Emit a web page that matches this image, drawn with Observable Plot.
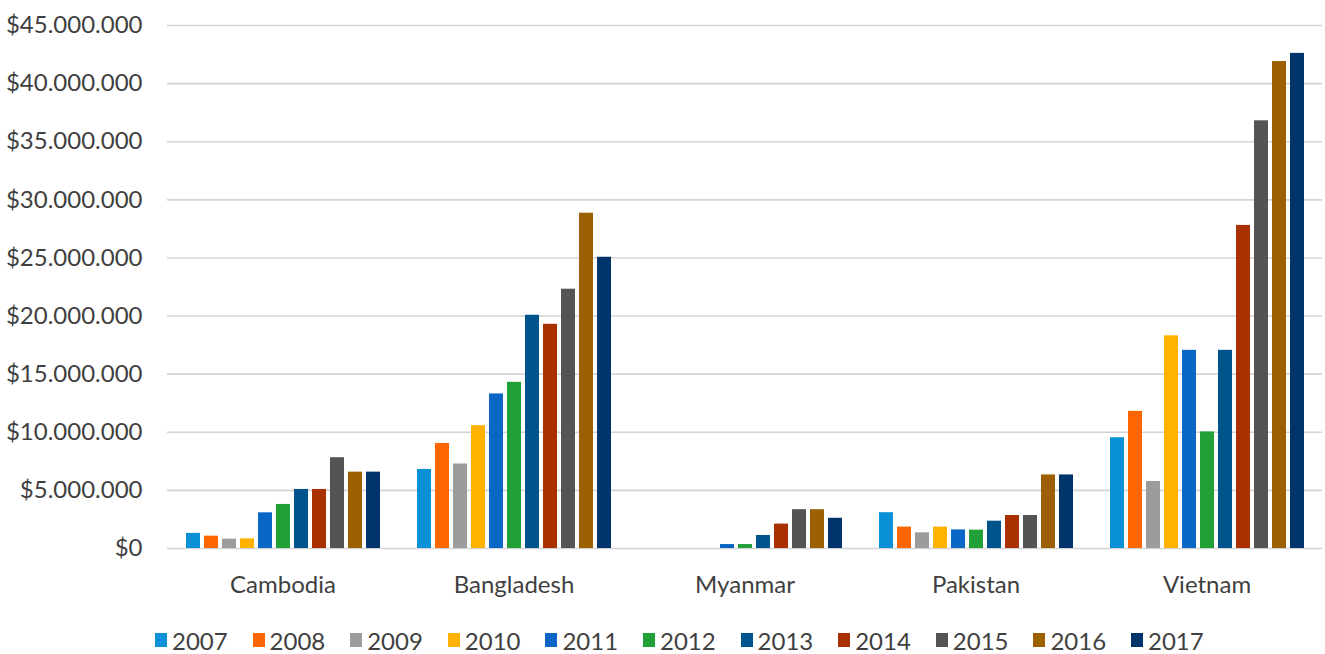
<!DOCTYPE html>
<html>
<head>
<meta charset="utf-8">
<script src="https://cdn.jsdelivr.net/npm/d3@7"></script>
<script src="https://cdn.jsdelivr.net/npm/@observablehq/plot@0.6"></script>
<style>
  body { margin: 0; background: #fff; font-family: Lato, "Open Sans", sans-serif; }
  #chart svg { display: block; }
  #legend { position: relative; height: 49px; }
  .item { position: absolute; top: 22px; display: flex; align-items: center; height: 26px; font-size: 24px; color: #3f3f3f; }
  .sw { width: 12px; height: 14px; margin-right: 5px; }
</style>
</head>
<body>
<div id="chart"></div>
<div id="legend"></div>
<script>
// Countries (facets) and years (bars within each country)
const countries = ["Cambodia", "Bangladesh", "Myanmar", "Pakistan", "Vietnam"];
const years = ["2007", "2008", "2009", "2010", "2011", "2012", "2013", "2014", "2015", "2016", "2017"];
const colors = ["#0a90d6", "#ff6600", "#9c9c9c", "#ffb300", "#0b67c6", "#21a038",
                "#00548c", "#a93000", "#545454", "#9b6100", "#00346a"];

// Values in USD, one entry per year 2007–2017
const cambodia   = [1300000, 1060000, 800000, 830000, 3070000, 3790000, 5080000, 5080000, 7810000, 6570000, 6570000];
const bangladesh = [6800000, 9040000, 7270000, 10570000, 13300000, 14300000, 20070000, 19290000, 22310000, 28850000, 25060000];
const myanmar    = [0, 0, 0, 0, 340000, 340000, 1120000, 2100000, 3340000, 3340000, 2600000];
const pakistan   = [3080000, 1840000, 1350000, 1840000, 1600000, 1580000, 2350000, 2840000, 2840000, 6330000, 6330000];
const vietnam    = [9530000, 11800000, 5770000, 18300000, 17050000, 10030000, 17050000, 27800000, 36800000, 41900000, 42600000];

const yTicks = [0, 5e6, 10e6, 15e6, 20e6, 25e6, 30e6, 35e6, 40e6, 45e6];

const series = [cambodia, bangladesh, myanmar, pakistan, vietnam];
const rows = countries.flatMap((country, i) =>
  years.map((year, j) => ({country, year, value: series[i][j]}))
);

const locale = d3.formatLocale({decimal: ",", thousands: ".", grouping: [3], currency: ["$", ""]});
const fmt = locale.format("$,.0f");

const chart = Plot.plot({
  width: 1325,
  height: 605,
  marginLeft: 166,
  marginRight: 3,
  marginTop: 25,
  marginBottom: 57,
  style: {fontFamily: "Lato, 'Open Sans', sans-serif", background: "#fff", color: "#3f3f3f"},
  fx: {domain: countries, padding: 0, axis: null},
  x: {domain: years, paddingInner: 0.23, paddingOuter: 0.83, axis: null},
  y: {domain: [0, 45e6], axis: null},
  color: {domain: years, range: colors},
  marks: [
    Plot.ruleY(yTicks, {stroke: "#d4d4d4", strokeWidth: 1.6}),
    Plot.barY(rows, {fx: "country", x: "year", y: "value", fill: "year"}),
    Plot.axisY(yTicks, {tickSize: 0, tickPadding: 25, tickFormat: fmt, label: null, fontSize: 24, fill: "#3f3f3f"}),
    Plot.axisFx({anchor: "bottom", tickSize: 0, tickPadding: 27, label: null, fontSize: 24, fill: "#3f3f3f"})
  ]
});
document.getElementById("chart").append(chart);

// Legend row below the chart
const legend = d3.select("#legend");
years.forEach((year, i) => {
  const item = legend.append("div").attr("class", "item").style("left", (155 + i * 97.6) + "px");
  item.append("div").attr("class", "sw").style("background", colors[i]);
  item.append("span").text(year);
});
</script>
</body>
</html>
